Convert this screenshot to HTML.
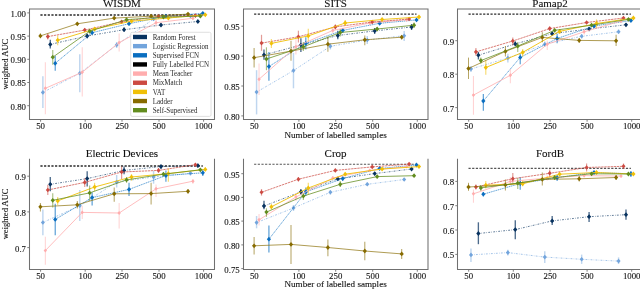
<!DOCTYPE html><html><head><meta charset="utf-8"><style>html,body{margin:0;padding:0;background:#fff;}svg{display:block;will-change:transform;}</style></head><body>
<svg width="640" height="289" viewBox="0 0 640 289" font-family='"Liberation Serif", serif'>
<rect width="640" height="289" fill="#fff"/>
<line x1="40.4" y1="14.9" x2="202.8" y2="14.9" stroke="#2a2a2a" stroke-width="1.45" stroke-dasharray="2.2 1.46"/>
<path d="M50.28 44.4 L87.18 36 L124.08 29.7 L160.98 25 L197.88 21.5" fill="none" stroke="#08325f" stroke-width="0.8" stroke-opacity="0.8" stroke-dasharray="1.8 1.3 0.6 1.3"/>
<line x1="50.28" y1="39.8" x2="50.28" y2="48.4" stroke="#08325f" stroke-width="1.35" stroke-opacity="0.72"/>
<line x1="87.18" y1="33.7" x2="87.18" y2="38.2" stroke="#08325f" stroke-width="1.35" stroke-opacity="0.72"/>
<line x1="124.08" y1="27.5" x2="124.08" y2="31.8" stroke="#08325f" stroke-width="1.35" stroke-opacity="0.72"/>
<line x1="160.98" y1="23.5" x2="160.98" y2="26.5" stroke="#08325f" stroke-width="1.35" stroke-opacity="0.72"/>
<line x1="197.88" y1="20.3" x2="197.88" y2="22.7" stroke="#08325f" stroke-width="1.35" stroke-opacity="0.72"/>
<path d="M50.28 41.98L52.38 44.4L50.28 46.81L48.18 44.4Z" fill="#08325f"/>
<path d="M87.18 33.59L89.28 36L87.18 38.41L85.08 36Z" fill="#08325f"/>
<path d="M124.08 27.29L126.18 29.7L124.08 32.12L121.98 29.7Z" fill="#08325f"/>
<path d="M160.98 22.59L163.08 25L160.98 27.41L158.88 25Z" fill="#08325f"/>
<path d="M197.88 19.09L199.98 21.5L197.88 23.91L195.78 21.5Z" fill="#08325f"/>
<path d="M42.87 92.4 L79.77 73.2 L116.67 45 L153.57 19 L190.47 16" fill="none" stroke="#72a4dc" stroke-width="0.8" stroke-opacity="0.8" stroke-dasharray="1.8 1.3 0.6 1.3"/>
<line x1="42.87" y1="76.2" x2="42.87" y2="107.9" stroke="#72a4dc" stroke-width="1.45" stroke-opacity="0.45"/>
<line x1="79.77" y1="54.2" x2="79.77" y2="92.2" stroke="#72a4dc" stroke-width="1.45" stroke-opacity="0.45"/>
<line x1="116.67" y1="42" x2="116.67" y2="48" stroke="#72a4dc" stroke-width="1.45" stroke-opacity="0.45"/>
<line x1="153.57" y1="17.5" x2="153.57" y2="20.5" stroke="#72a4dc" stroke-width="1.45" stroke-opacity="0.45"/>
<line x1="190.47" y1="14.5" x2="190.47" y2="17.5" stroke="#72a4dc" stroke-width="1.45" stroke-opacity="0.45"/>
<path d="M42.87 90.1L44.87 92.4L42.87 94.7L40.87 92.4Z" fill="#72a4dc"/>
<path d="M79.77 70.9L81.77 73.2L79.77 75.5L77.77 73.2Z" fill="#72a4dc"/>
<path d="M116.67 42.7L118.67 45L116.67 47.3L114.67 45Z" fill="#72a4dc"/>
<path d="M153.57 16.7L155.57 19L153.57 21.3L151.57 19Z" fill="#72a4dc"/>
<path d="M190.47 13.7L192.47 16L190.47 18.3L188.47 16Z" fill="#72a4dc"/>
<path d="M55.22 63.3 L92.12 32.7 L129.02 23.7 L165.92 16.2 L202.82 13.3" fill="none" stroke="#0a6ec0" stroke-width="0.8" stroke-opacity="0.8" stroke-dasharray="1.3 0.6"/>
<line x1="55.22" y1="56" x2="55.22" y2="70.8" stroke="#0a6ec0" stroke-width="1.15" stroke-opacity="0.7"/>
<line x1="92.12" y1="30.5" x2="92.12" y2="35" stroke="#0a6ec0" stroke-width="1.15" stroke-opacity="0.7"/>
<line x1="129.02" y1="22" x2="129.02" y2="25.5" stroke="#0a6ec0" stroke-width="1.15" stroke-opacity="0.7"/>
<line x1="165.92" y1="15" x2="165.92" y2="17.5" stroke="#0a6ec0" stroke-width="1.15" stroke-opacity="0.7"/>
<line x1="202.82" y1="12.3" x2="202.82" y2="14.3" stroke="#0a6ec0" stroke-width="1.15" stroke-opacity="0.7"/>
<path d="M55.22 60.88L57.32 63.3L55.22 65.72L53.12 63.3Z" fill="#0a6ec0"/>
<path d="M92.12 30.29L94.22 32.7L92.12 35.12L90.02 32.7Z" fill="#0a6ec0"/>
<path d="M129.02 21.29L131.12 23.7L129.02 26.11L126.92 23.7Z" fill="#0a6ec0"/>
<path d="M165.92 13.79L168.02 16.2L165.92 18.61L163.82 16.2Z" fill="#0a6ec0"/>
<path d="M202.82 10.89L204.92 13.3L202.82 15.71L200.72 13.3Z" fill="#0a6ec0"/>
<path d="M45.34 88.3 L82.24 72.2 L119.14 42.6 L156.04 22.7 L192.94 18.3" fill="none" stroke="#ffadae" stroke-width="0.9" stroke-opacity="0.9"/>
<line x1="45.34" y1="62.2" x2="45.34" y2="114.2" stroke="#ffadae" stroke-width="1.05" stroke-opacity="0.55"/>
<line x1="82.24" y1="47.3" x2="82.24" y2="96.5" stroke="#ffadae" stroke-width="1.05" stroke-opacity="0.55"/>
<line x1="119.14" y1="33.6" x2="119.14" y2="51.6" stroke="#ffadae" stroke-width="1.05" stroke-opacity="0.55"/>
<line x1="156.04" y1="19.7" x2="156.04" y2="26.8" stroke="#ffadae" stroke-width="1.05" stroke-opacity="0.55"/>
<line x1="192.94" y1="16.5" x2="192.94" y2="20" stroke="#ffadae" stroke-width="1.05" stroke-opacity="0.55"/>
<path d="M45.34 86.34L47.04 88.3L45.34 90.25L43.64 88.3Z" fill="#ffadae"/>
<path d="M82.24 70.25L83.94 72.2L82.24 74.16L80.54 72.2Z" fill="#ffadae"/>
<path d="M119.14 40.65L120.84 42.6L119.14 44.55L117.44 42.6Z" fill="#ffadae"/>
<path d="M156.04 20.75L157.74 22.7L156.04 24.65L154.34 22.7Z" fill="#ffadae"/>
<path d="M192.94 16.35L194.64 18.3L192.94 20.25L191.24 18.3Z" fill="#ffadae"/>
<path d="M47.81 36.6 L84.71 30.1 L121.61 21.8 L158.51 16.4 L195.41 15.6" fill="none" stroke="#cc4a42" stroke-width="0.9" stroke-opacity="0.8" stroke-dasharray="2.4 0.7"/>
<line x1="47.81" y1="33.5" x2="47.81" y2="39.5" stroke="#cc4a42" stroke-width="1.2" stroke-opacity="0.55"/>
<line x1="84.71" y1="28" x2="84.71" y2="32" stroke="#cc4a42" stroke-width="1.2" stroke-opacity="0.55"/>
<line x1="121.61" y1="20" x2="121.61" y2="23.5" stroke="#cc4a42" stroke-width="1.2" stroke-opacity="0.55"/>
<line x1="158.51" y1="15" x2="158.51" y2="18" stroke="#cc4a42" stroke-width="1.2" stroke-opacity="0.55"/>
<line x1="195.41" y1="14.5" x2="195.41" y2="16.7" stroke="#cc4a42" stroke-width="1.2" stroke-opacity="0.55"/>
<path d="M47.81 34.3L49.81 36.6L47.81 38.9L45.81 36.6Z" fill="#cc4a42"/>
<path d="M84.71 27.8L86.71 30.1L84.71 32.4L82.71 30.1Z" fill="#cc4a42"/>
<path d="M121.61 19.5L123.61 21.8L121.61 24.1L119.61 21.8Z" fill="#cc4a42"/>
<path d="M158.51 14.1L160.51 16.4L158.51 18.7L156.51 16.4Z" fill="#cc4a42"/>
<path d="M195.41 13.3L197.41 15.6L195.41 17.9L193.41 15.6Z" fill="#cc4a42"/>
<path d="M57.69 40.2 L94.59 29 L131.49 21.2 L168.39 18 L205.29 14.8" fill="none" stroke="#f0c008" stroke-width="1.0" stroke-opacity="0.9"/>
<line x1="57.69" y1="35.6" x2="57.69" y2="45.2" stroke="#f0c008" stroke-width="1.2" stroke-opacity="0.55"/>
<line x1="94.59" y1="27" x2="94.59" y2="31" stroke="#f0c008" stroke-width="1.2" stroke-opacity="0.55"/>
<line x1="131.49" y1="19.5" x2="131.49" y2="23" stroke="#f0c008" stroke-width="1.2" stroke-opacity="0.55"/>
<line x1="168.39" y1="16.5" x2="168.39" y2="19.5" stroke="#f0c008" stroke-width="1.2" stroke-opacity="0.55"/>
<line x1="205.29" y1="13.8" x2="205.29" y2="15.8" stroke="#f0c008" stroke-width="1.2" stroke-opacity="0.55"/>
<path d="M57.69 37.79L59.79 40.2L57.69 42.62L55.59 40.2Z" fill="#f0c008"/>
<path d="M94.59 26.59L96.69 29L94.59 31.41L92.49 29Z" fill="#f0c008"/>
<path d="M131.49 18.79L133.59 21.2L131.49 23.61L129.39 21.2Z" fill="#f0c008"/>
<path d="M168.39 15.59L170.49 18L168.39 20.41L166.29 18Z" fill="#f0c008"/>
<path d="M205.29 12.39L207.39 14.8L205.29 17.21L203.19 14.8Z" fill="#f0c008"/>
<path d="M40.4 35.9 L77.3 23.8 L114.2 18.1 L151.1 16.2 L188 14.1" fill="none" stroke="#876b00" stroke-width="0.9" stroke-opacity="0.75"/>
<line x1="40.4" y1="33.6" x2="40.4" y2="38.2" stroke="#876b00" stroke-width="1.05" stroke-opacity="0.6"/>
<line x1="77.3" y1="22" x2="77.3" y2="25.5" stroke="#876b00" stroke-width="1.05" stroke-opacity="0.6"/>
<line x1="114.2" y1="16.5" x2="114.2" y2="19.7" stroke="#876b00" stroke-width="1.05" stroke-opacity="0.6"/>
<line x1="151.1" y1="15" x2="151.1" y2="17.4" stroke="#876b00" stroke-width="1.05" stroke-opacity="0.6"/>
<line x1="188" y1="13" x2="188" y2="15.2" stroke="#876b00" stroke-width="1.05" stroke-opacity="0.6"/>
<path d="M40.4 33.48L42.5 35.9L40.4 38.31L38.3 35.9Z" fill="#876b00"/>
<path d="M77.3 21.39L79.4 23.8L77.3 26.21L75.2 23.8Z" fill="#876b00"/>
<path d="M114.2 15.69L116.3 18.1L114.2 20.52L112.1 18.1Z" fill="#876b00"/>
<path d="M151.1 13.79L153.2 16.2L151.1 18.61L149 16.2Z" fill="#876b00"/>
<path d="M188 11.68L190.1 14.1L188 16.52L185.9 14.1Z" fill="#876b00"/>
<path d="M52.75 57.2 L89.65 31.2 L126.55 19.7 L163.45 17 L200.35 16.2" fill="none" stroke="#628c1e" stroke-width="0.9" stroke-opacity="0.85"/>
<line x1="52.75" y1="49.9" x2="52.75" y2="64.7" stroke="#628c1e" stroke-width="1.15" stroke-opacity="0.55"/>
<line x1="89.65" y1="29" x2="89.65" y2="33.5" stroke="#628c1e" stroke-width="1.15" stroke-opacity="0.55"/>
<line x1="126.55" y1="18" x2="126.55" y2="21.5" stroke="#628c1e" stroke-width="1.15" stroke-opacity="0.55"/>
<line x1="163.45" y1="15.8" x2="163.45" y2="18.2" stroke="#628c1e" stroke-width="1.15" stroke-opacity="0.55"/>
<line x1="200.35" y1="15.2" x2="200.35" y2="17.2" stroke="#628c1e" stroke-width="1.15" stroke-opacity="0.55"/>
<path d="M52.75 54.79L54.85 57.2L52.75 59.62L50.65 57.2Z" fill="#628c1e"/>
<path d="M89.65 28.79L91.75 31.2L89.65 33.62L87.55 31.2Z" fill="#628c1e"/>
<path d="M126.55 17.29L128.65 19.7L126.55 22.11L124.45 19.7Z" fill="#628c1e"/>
<path d="M163.45 14.59L165.55 17L163.45 19.41L161.35 17Z" fill="#628c1e"/>
<path d="M200.35 13.79L202.45 16.2L200.35 18.61L198.25 16.2Z" fill="#628c1e"/>
<path d="M29.5 119.5 L29.5 9 L214.5 9 L214.5 119.5 Z" fill="none" stroke="#707070" stroke-width="1.05"/>
<line x1="27.3" y1="12.9" x2="29.5" y2="12.9" stroke="#707070" stroke-width="0.9"/>
<text transform="translate(26 16.8) scale(0.1060 0.1)" font-size="83" text-anchor="end" fill="#111" stroke="#111" stroke-width="1.0">1.00</text>
<line x1="27.3" y1="36.1" x2="29.5" y2="36.1" stroke="#707070" stroke-width="0.9"/>
<text transform="translate(26 40) scale(0.1060 0.1)" font-size="83" text-anchor="end" fill="#111" stroke="#111" stroke-width="1.0">0.95</text>
<line x1="27.3" y1="59.3" x2="29.5" y2="59.3" stroke="#707070" stroke-width="0.9"/>
<text transform="translate(26 63.2) scale(0.1060 0.1)" font-size="83" text-anchor="end" fill="#111" stroke="#111" stroke-width="1.0">0.90</text>
<line x1="27.3" y1="82.5" x2="29.5" y2="82.5" stroke="#707070" stroke-width="0.9"/>
<text transform="translate(26 86.4) scale(0.1060 0.1)" font-size="83" text-anchor="end" fill="#111" stroke="#111" stroke-width="1.0">0.85</text>
<line x1="27.3" y1="105.7" x2="29.5" y2="105.7" stroke="#707070" stroke-width="0.9"/>
<text transform="translate(26 109.6) scale(0.1060 0.1)" font-size="83" text-anchor="end" fill="#111" stroke="#111" stroke-width="1.0">0.80</text>
<line x1="40.6" y1="119.5" x2="40.6" y2="121.7" stroke="#707070" stroke-width="0.9"/>
<text transform="translate(40.6 128.7) scale(0.1060 0.1)" font-size="83" text-anchor="middle" fill="#111" stroke="#111" stroke-width="1.0">50</text>
<line x1="85.2" y1="119.5" x2="85.2" y2="121.7" stroke="#707070" stroke-width="0.9"/>
<text transform="translate(85.2 128.7) scale(0.1060 0.1)" font-size="83" text-anchor="middle" fill="#111" stroke="#111" stroke-width="1.0">100</text>
<line x1="122" y1="119.5" x2="122" y2="121.7" stroke="#707070" stroke-width="0.9"/>
<text transform="translate(122 128.7) scale(0.1060 0.1)" font-size="83" text-anchor="middle" fill="#111" stroke="#111" stroke-width="1.0">250</text>
<line x1="159" y1="119.5" x2="159" y2="121.7" stroke="#707070" stroke-width="0.9"/>
<text transform="translate(159 128.7) scale(0.1060 0.1)" font-size="83" text-anchor="middle" fill="#111" stroke="#111" stroke-width="1.0">500</text>
<line x1="203.6" y1="119.5" x2="203.6" y2="121.7" stroke="#707070" stroke-width="0.9"/>
<text transform="translate(203.6 128.7) scale(0.1060 0.1)" font-size="83" text-anchor="middle" fill="#111" stroke="#111" stroke-width="1.0">1000</text>
<text transform="translate(121.9 6.7) scale(0.1000 0.1)" font-size="110" text-anchor="middle" fill="#111" stroke="#111" stroke-width="1.0">WISDM</text>
<line x1="254.1" y1="14.1" x2="416.5" y2="14.1" stroke="#2a2a2a" stroke-width="1.45" stroke-dasharray="2.2 1.46"/>
<path d="M263.98 54.9 L300.88 45.1 L337.78 35.5 L374.68 30.9 L411.58 27" fill="none" stroke="#08325f" stroke-width="0.8" stroke-opacity="0.8" stroke-dasharray="1.8 1.3 0.6 1.3"/>
<line x1="263.98" y1="49.4" x2="263.98" y2="59.8" stroke="#08325f" stroke-width="1.35" stroke-opacity="0.72"/>
<line x1="300.88" y1="38.2" x2="300.88" y2="52" stroke="#08325f" stroke-width="1.35" stroke-opacity="0.72"/>
<line x1="337.78" y1="30.8" x2="337.78" y2="39.3" stroke="#08325f" stroke-width="1.35" stroke-opacity="0.72"/>
<line x1="374.68" y1="28" x2="374.68" y2="34" stroke="#08325f" stroke-width="1.35" stroke-opacity="0.72"/>
<line x1="411.58" y1="24" x2="411.58" y2="30" stroke="#08325f" stroke-width="1.35" stroke-opacity="0.72"/>
<path d="M263.98 52.48L266.08 54.9L263.98 57.31L261.88 54.9Z" fill="#08325f"/>
<path d="M300.88 42.69L302.98 45.1L300.88 47.52L298.78 45.1Z" fill="#08325f"/>
<path d="M337.78 33.09L339.88 35.5L337.78 37.91L335.68 35.5Z" fill="#08325f"/>
<path d="M374.68 28.48L376.78 30.9L374.68 33.31L372.58 30.9Z" fill="#08325f"/>
<path d="M411.58 24.59L413.68 27L411.58 29.41L409.48 27Z" fill="#08325f"/>
<path d="M256.57 92.1 L293.47 70.6 L330.37 46.3 L367.27 40 L404.17 35.7" fill="none" stroke="#72a4dc" stroke-width="0.8" stroke-opacity="0.8" stroke-dasharray="1.8 1.3 0.6 1.3"/>
<line x1="256.57" y1="70.2" x2="256.57" y2="114.4" stroke="#72a4dc" stroke-width="1.45" stroke-opacity="0.45"/>
<line x1="293.47" y1="53" x2="293.47" y2="88.3" stroke="#72a4dc" stroke-width="1.45" stroke-opacity="0.45"/>
<line x1="330.37" y1="43" x2="330.37" y2="49.5" stroke="#72a4dc" stroke-width="1.45" stroke-opacity="0.45"/>
<line x1="367.27" y1="36" x2="367.27" y2="44" stroke="#72a4dc" stroke-width="1.45" stroke-opacity="0.45"/>
<line x1="404.17" y1="31" x2="404.17" y2="41" stroke="#72a4dc" stroke-width="1.45" stroke-opacity="0.45"/>
<path d="M256.57 89.8L258.57 92.1L256.57 94.4L254.57 92.1Z" fill="#72a4dc"/>
<path d="M293.47 68.3L295.47 70.6L293.47 72.9L291.47 70.6Z" fill="#72a4dc"/>
<path d="M330.37 44L332.37 46.3L330.37 48.6L328.37 46.3Z" fill="#72a4dc"/>
<path d="M367.27 37.7L369.27 40L367.27 42.3L365.27 40Z" fill="#72a4dc"/>
<path d="M404.17 33.4L406.17 35.7L404.17 38L402.17 35.7Z" fill="#72a4dc"/>
<path d="M268.92 66.5 L305.82 43.4 L342.72 30.4 L379.62 23.3 L416.52 19.9" fill="none" stroke="#0a6ec0" stroke-width="0.8" stroke-opacity="0.8" stroke-dasharray="1.3 0.6"/>
<line x1="268.92" y1="52" x2="268.92" y2="80.7" stroke="#0a6ec0" stroke-width="1.15" stroke-opacity="0.7"/>
<line x1="305.82" y1="37.3" x2="305.82" y2="49.4" stroke="#0a6ec0" stroke-width="1.15" stroke-opacity="0.7"/>
<line x1="342.72" y1="28" x2="342.72" y2="33" stroke="#0a6ec0" stroke-width="1.15" stroke-opacity="0.7"/>
<line x1="379.62" y1="21.5" x2="379.62" y2="25" stroke="#0a6ec0" stroke-width="1.15" stroke-opacity="0.7"/>
<line x1="416.52" y1="18.5" x2="416.52" y2="21.3" stroke="#0a6ec0" stroke-width="1.15" stroke-opacity="0.7"/>
<path d="M268.92 64.08L271.02 66.5L268.92 68.92L266.82 66.5Z" fill="#0a6ec0"/>
<path d="M305.82 40.98L307.92 43.4L305.82 45.81L303.72 43.4Z" fill="#0a6ec0"/>
<path d="M342.72 27.98L344.82 30.4L342.72 32.81L340.62 30.4Z" fill="#0a6ec0"/>
<path d="M379.62 20.89L381.72 23.3L379.62 25.71L377.52 23.3Z" fill="#0a6ec0"/>
<path d="M416.52 17.48L418.62 19.9L416.52 22.31L414.42 19.9Z" fill="#0a6ec0"/>
<path d="M259.04 79.2 L295.94 46.8 L332.84 30.4 L369.74 23 L406.64 19.8" fill="none" stroke="#ffadae" stroke-width="0.9" stroke-opacity="0.9"/>
<line x1="259.04" y1="63.6" x2="259.04" y2="95" stroke="#ffadae" stroke-width="1.05" stroke-opacity="0.55"/>
<line x1="295.94" y1="39" x2="295.94" y2="54.6" stroke="#ffadae" stroke-width="1.05" stroke-opacity="0.55"/>
<line x1="332.84" y1="28" x2="332.84" y2="33" stroke="#ffadae" stroke-width="1.05" stroke-opacity="0.55"/>
<line x1="369.74" y1="21" x2="369.74" y2="25" stroke="#ffadae" stroke-width="1.05" stroke-opacity="0.55"/>
<line x1="406.64" y1="18" x2="406.64" y2="21.5" stroke="#ffadae" stroke-width="1.05" stroke-opacity="0.55"/>
<path d="M259.04 77.25L260.74 79.2L259.04 81.16L257.34 79.2Z" fill="#ffadae"/>
<path d="M295.94 44.84L297.64 46.8L295.94 48.75L294.24 46.8Z" fill="#ffadae"/>
<path d="M332.84 28.45L334.54 30.4L332.84 32.35L331.14 30.4Z" fill="#ffadae"/>
<path d="M369.74 21.05L371.44 23L369.74 24.95L368.04 23Z" fill="#ffadae"/>
<path d="M406.64 17.85L408.34 19.8L406.64 21.75L404.94 19.8Z" fill="#ffadae"/>
<path d="M261.51 43.1 L298.41 36.8 L335.31 26.9 L372.21 22 L409.11 19" fill="none" stroke="#cc4a42" stroke-width="0.9" stroke-opacity="0.8" stroke-dasharray="2.4 0.7"/>
<line x1="261.51" y1="34.8" x2="261.51" y2="50.8" stroke="#cc4a42" stroke-width="1.2" stroke-opacity="0.55"/>
<line x1="298.41" y1="30.7" x2="298.41" y2="42.5" stroke="#cc4a42" stroke-width="1.2" stroke-opacity="0.55"/>
<line x1="335.31" y1="24.5" x2="335.31" y2="29.3" stroke="#cc4a42" stroke-width="1.2" stroke-opacity="0.55"/>
<line x1="372.21" y1="20.5" x2="372.21" y2="23.5" stroke="#cc4a42" stroke-width="1.2" stroke-opacity="0.55"/>
<line x1="409.11" y1="17.8" x2="409.11" y2="20.2" stroke="#cc4a42" stroke-width="1.2" stroke-opacity="0.55"/>
<path d="M261.51 40.8L263.51 43.1L261.51 45.4L259.51 43.1Z" fill="#cc4a42"/>
<path d="M298.41 34.5L300.41 36.8L298.41 39.1L296.41 36.8Z" fill="#cc4a42"/>
<path d="M335.31 24.6L337.31 26.9L335.31 29.2L333.31 26.9Z" fill="#cc4a42"/>
<path d="M372.21 19.7L374.21 22L372.21 24.3L370.21 22Z" fill="#cc4a42"/>
<path d="M409.11 16.7L411.11 19L409.11 21.3L407.11 19Z" fill="#cc4a42"/>
<path d="M271.39 43.4 L308.29 35.9 L345.19 23 L382.09 19.5 L418.99 17" fill="none" stroke="#f0c008" stroke-width="1.0" stroke-opacity="0.9"/>
<line x1="271.39" y1="39" x2="271.39" y2="48" stroke="#f0c008" stroke-width="1.2" stroke-opacity="0.55"/>
<line x1="308.29" y1="28.7" x2="308.29" y2="41.6" stroke="#f0c008" stroke-width="1.2" stroke-opacity="0.55"/>
<line x1="345.19" y1="20" x2="345.19" y2="26" stroke="#f0c008" stroke-width="1.2" stroke-opacity="0.55"/>
<line x1="382.09" y1="18" x2="382.09" y2="21" stroke="#f0c008" stroke-width="1.2" stroke-opacity="0.55"/>
<line x1="418.99" y1="16" x2="418.99" y2="18" stroke="#f0c008" stroke-width="1.2" stroke-opacity="0.55"/>
<path d="M271.39 40.98L273.49 43.4L271.39 45.81L269.29 43.4Z" fill="#f0c008"/>
<path d="M308.29 33.48L310.39 35.9L308.29 38.31L306.19 35.9Z" fill="#f0c008"/>
<path d="M345.19 20.59L347.29 23L345.19 25.41L343.09 23Z" fill="#f0c008"/>
<path d="M382.09 17.09L384.19 19.5L382.09 21.91L379.99 19.5Z" fill="#f0c008"/>
<path d="M418.99 14.59L421.09 17L418.99 19.41L416.89 17Z" fill="#f0c008"/>
<path d="M254.1 57.7 L291 51.1 L327.9 44.2 L364.8 39.8 L401.7 37.2" fill="none" stroke="#876b00" stroke-width="0.9" stroke-opacity="0.75"/>
<line x1="254.1" y1="48" x2="254.1" y2="67.4" stroke="#876b00" stroke-width="1.05" stroke-opacity="0.6"/>
<line x1="291" y1="40.8" x2="291" y2="60.7" stroke="#876b00" stroke-width="1.05" stroke-opacity="0.6"/>
<line x1="327.9" y1="36.6" x2="327.9" y2="51.8" stroke="#876b00" stroke-width="1.05" stroke-opacity="0.6"/>
<line x1="364.8" y1="35.6" x2="364.8" y2="45.2" stroke="#876b00" stroke-width="1.05" stroke-opacity="0.6"/>
<line x1="401.7" y1="35" x2="401.7" y2="39.5" stroke="#876b00" stroke-width="1.05" stroke-opacity="0.6"/>
<path d="M254.1 55.29L256.2 57.7L254.1 60.12L252 57.7Z" fill="#876b00"/>
<path d="M291 48.69L293.1 51.1L291 53.52L288.9 51.1Z" fill="#876b00"/>
<path d="M327.9 41.79L330 44.2L327.9 46.62L325.8 44.2Z" fill="#876b00"/>
<path d="M364.8 37.38L366.9 39.8L364.8 42.21L362.7 39.8Z" fill="#876b00"/>
<path d="M401.7 34.79L403.8 37.2L401.7 39.62L399.6 37.2Z" fill="#876b00"/>
<path d="M266.45 59 L303.35 46.8 L340.25 32.5 L377.15 29 L414.05 25.2" fill="none" stroke="#628c1e" stroke-width="0.9" stroke-opacity="0.85"/>
<line x1="266.45" y1="47.3" x2="266.45" y2="70.2" stroke="#628c1e" stroke-width="1.15" stroke-opacity="0.55"/>
<line x1="303.35" y1="42" x2="303.35" y2="51" stroke="#628c1e" stroke-width="1.15" stroke-opacity="0.55"/>
<line x1="340.25" y1="29" x2="340.25" y2="36.5" stroke="#628c1e" stroke-width="1.15" stroke-opacity="0.55"/>
<line x1="377.15" y1="27" x2="377.15" y2="31" stroke="#628c1e" stroke-width="1.15" stroke-opacity="0.55"/>
<line x1="414.05" y1="22.5" x2="414.05" y2="28" stroke="#628c1e" stroke-width="1.15" stroke-opacity="0.55"/>
<path d="M266.45 56.59L268.55 59L266.45 61.41L264.35 59Z" fill="#628c1e"/>
<path d="M303.35 44.38L305.45 46.8L303.35 49.21L301.25 46.8Z" fill="#628c1e"/>
<path d="M340.25 30.09L342.35 32.5L340.25 34.91L338.15 32.5Z" fill="#628c1e"/>
<path d="M377.15 26.59L379.25 29L377.15 31.41L375.05 29Z" fill="#628c1e"/>
<path d="M414.05 22.79L416.15 25.2L414.05 27.61L411.95 25.2Z" fill="#628c1e"/>
<path d="M243.5 119.5 L243.5 9 L428 9 L428 119.5 Z" fill="none" stroke="#707070" stroke-width="1.05"/>
<line x1="241.3" y1="26.2" x2="243.5" y2="26.2" stroke="#707070" stroke-width="0.9"/>
<text transform="translate(239.7 30.1) scale(0.1060 0.1)" font-size="83" text-anchor="end" fill="#111" stroke="#111" stroke-width="1.0">0.95</text>
<line x1="241.3" y1="56.1" x2="243.5" y2="56.1" stroke="#707070" stroke-width="0.9"/>
<text transform="translate(239.7 60) scale(0.1060 0.1)" font-size="83" text-anchor="end" fill="#111" stroke="#111" stroke-width="1.0">0.90</text>
<line x1="241.3" y1="86" x2="243.5" y2="86" stroke="#707070" stroke-width="0.9"/>
<text transform="translate(239.7 89.9) scale(0.1060 0.1)" font-size="83" text-anchor="end" fill="#111" stroke="#111" stroke-width="1.0">0.85</text>
<line x1="241.3" y1="115.9" x2="243.5" y2="115.9" stroke="#707070" stroke-width="0.9"/>
<text transform="translate(239.7 119.8) scale(0.1060 0.1)" font-size="83" text-anchor="end" fill="#111" stroke="#111" stroke-width="1.0">0.80</text>
<line x1="254.3" y1="119.5" x2="254.3" y2="121.7" stroke="#707070" stroke-width="0.9"/>
<text transform="translate(254.3 128.7) scale(0.1060 0.1)" font-size="83" text-anchor="middle" fill="#111" stroke="#111" stroke-width="1.0">50</text>
<line x1="298.9" y1="119.5" x2="298.9" y2="121.7" stroke="#707070" stroke-width="0.9"/>
<text transform="translate(298.9 128.7) scale(0.1060 0.1)" font-size="83" text-anchor="middle" fill="#111" stroke="#111" stroke-width="1.0">100</text>
<line x1="335.7" y1="119.5" x2="335.7" y2="121.7" stroke="#707070" stroke-width="0.9"/>
<text transform="translate(335.7 128.7) scale(0.1060 0.1)" font-size="83" text-anchor="middle" fill="#111" stroke="#111" stroke-width="1.0">250</text>
<line x1="372.7" y1="119.5" x2="372.7" y2="121.7" stroke="#707070" stroke-width="0.9"/>
<text transform="translate(372.7 128.7) scale(0.1060 0.1)" font-size="83" text-anchor="middle" fill="#111" stroke="#111" stroke-width="1.0">500</text>
<line x1="417.3" y1="119.5" x2="417.3" y2="121.7" stroke="#707070" stroke-width="0.9"/>
<text transform="translate(417.3 128.7) scale(0.1060 0.1)" font-size="83" text-anchor="middle" fill="#111" stroke="#111" stroke-width="1.0">1000</text>
<text transform="translate(335.6 6.7) scale(0.1000 0.1)" font-size="110" text-anchor="middle" fill="#111" stroke="#111" stroke-width="1.0">SITS</text>
<line x1="468.5" y1="14.1" x2="630.9" y2="14.1" stroke="#2a2a2a" stroke-width="1.45" stroke-dasharray="2.2 1.46"/>
<path d="M478.38 55.2 L515.28 43.9 L552.18 33.7 L589.08 29 L625.98 24.8" fill="none" stroke="#08325f" stroke-width="0.8" stroke-opacity="0.8" stroke-dasharray="1.8 1.3 0.6 1.3"/>
<line x1="478.38" y1="51.9" x2="478.38" y2="59.5" stroke="#08325f" stroke-width="1.35" stroke-opacity="0.72"/>
<line x1="515.28" y1="41.5" x2="515.28" y2="46.3" stroke="#08325f" stroke-width="1.35" stroke-opacity="0.72"/>
<line x1="552.18" y1="31.5" x2="552.18" y2="36" stroke="#08325f" stroke-width="1.35" stroke-opacity="0.72"/>
<line x1="589.08" y1="27.3" x2="589.08" y2="30.7" stroke="#08325f" stroke-width="1.35" stroke-opacity="0.72"/>
<line x1="625.98" y1="23.3" x2="625.98" y2="26.3" stroke="#08325f" stroke-width="1.35" stroke-opacity="0.72"/>
<path d="M478.38 52.79L480.48 55.2L478.38 57.62L476.28 55.2Z" fill="#08325f"/>
<path d="M515.28 41.48L517.38 43.9L515.28 46.31L513.18 43.9Z" fill="#08325f"/>
<path d="M552.18 31.29L554.28 33.7L552.18 36.12L550.08 33.7Z" fill="#08325f"/>
<path d="M589.08 26.59L591.18 29L589.08 31.41L586.98 29Z" fill="#08325f"/>
<path d="M625.98 22.39L628.08 24.8L625.98 27.21L623.88 24.8Z" fill="#08325f"/>
<path d="M470.97 69 L507.87 58 L544.77 44.2 L581.67 36.3 L618.57 31.8" fill="none" stroke="#72a4dc" stroke-width="0.8" stroke-opacity="0.8" stroke-dasharray="1.8 1.3 0.6 1.3"/>
<line x1="470.97" y1="66" x2="470.97" y2="72" stroke="#72a4dc" stroke-width="1.45" stroke-opacity="0.45"/>
<line x1="507.87" y1="53.8" x2="507.87" y2="62.4" stroke="#72a4dc" stroke-width="1.45" stroke-opacity="0.45"/>
<line x1="544.77" y1="41.5" x2="544.77" y2="47" stroke="#72a4dc" stroke-width="1.45" stroke-opacity="0.45"/>
<line x1="581.67" y1="34" x2="581.67" y2="38.5" stroke="#72a4dc" stroke-width="1.45" stroke-opacity="0.45"/>
<line x1="618.57" y1="29.5" x2="618.57" y2="34" stroke="#72a4dc" stroke-width="1.45" stroke-opacity="0.45"/>
<path d="M470.97 66.7L472.97 69L470.97 71.3L468.97 69Z" fill="#72a4dc"/>
<path d="M507.87 55.7L509.87 58L507.87 60.3L505.87 58Z" fill="#72a4dc"/>
<path d="M544.77 41.9L546.77 44.2L544.77 46.5L542.77 44.2Z" fill="#72a4dc"/>
<path d="M581.67 34L583.67 36.3L581.67 38.6L579.67 36.3Z" fill="#72a4dc"/>
<path d="M618.57 29.5L620.57 31.8L618.57 34.1L616.57 31.8Z" fill="#72a4dc"/>
<path d="M483.32 101 L520.22 57.4 L557.12 38.5 L594.02 26 L630.92 20.5" fill="none" stroke="#0a6ec0" stroke-width="0.8" stroke-opacity="0.8" stroke-dasharray="1.3 0.6"/>
<line x1="483.32" y1="94" x2="483.32" y2="110.7" stroke="#0a6ec0" stroke-width="1.15" stroke-opacity="0.7"/>
<line x1="520.22" y1="53.8" x2="520.22" y2="64.3" stroke="#0a6ec0" stroke-width="1.15" stroke-opacity="0.7"/>
<line x1="557.12" y1="33.7" x2="557.12" y2="43.2" stroke="#0a6ec0" stroke-width="1.15" stroke-opacity="0.7"/>
<line x1="594.02" y1="24" x2="594.02" y2="28" stroke="#0a6ec0" stroke-width="1.15" stroke-opacity="0.7"/>
<line x1="630.92" y1="19" x2="630.92" y2="22" stroke="#0a6ec0" stroke-width="1.15" stroke-opacity="0.7"/>
<path d="M483.32 98.58L485.42 101L483.32 103.42L481.22 101Z" fill="#0a6ec0"/>
<path d="M520.22 54.98L522.32 57.4L520.22 59.81L518.12 57.4Z" fill="#0a6ec0"/>
<path d="M557.12 36.09L559.22 38.5L557.12 40.91L555.02 38.5Z" fill="#0a6ec0"/>
<path d="M594.02 23.59L596.12 26L594.02 28.41L591.92 26Z" fill="#0a6ec0"/>
<path d="M630.92 18.09L633.02 20.5L630.92 22.91L628.82 20.5Z" fill="#0a6ec0"/>
<path d="M473.44 95.1 L510.34 75.3 L547.24 44.2 L584.14 31.8 L621.04 21" fill="none" stroke="#ffadae" stroke-width="0.9" stroke-opacity="0.9"/>
<line x1="473.44" y1="76" x2="473.44" y2="114.8" stroke="#ffadae" stroke-width="1.05" stroke-opacity="0.55"/>
<line x1="510.34" y1="69" x2="510.34" y2="83.3" stroke="#ffadae" stroke-width="1.05" stroke-opacity="0.55"/>
<line x1="547.24" y1="40.4" x2="547.24" y2="49.9" stroke="#ffadae" stroke-width="1.05" stroke-opacity="0.55"/>
<line x1="584.14" y1="29" x2="584.14" y2="34.5" stroke="#ffadae" stroke-width="1.05" stroke-opacity="0.55"/>
<line x1="621.04" y1="19" x2="621.04" y2="23" stroke="#ffadae" stroke-width="1.05" stroke-opacity="0.55"/>
<path d="M473.44 93.14L475.14 95.1L473.44 97.05L471.74 95.1Z" fill="#ffadae"/>
<path d="M510.34 73.34L512.04 75.3L510.34 77.25L508.64 75.3Z" fill="#ffadae"/>
<path d="M547.24 42.25L548.94 44.2L547.24 46.16L545.54 44.2Z" fill="#ffadae"/>
<path d="M584.14 29.85L585.84 31.8L584.14 33.76L582.44 31.8Z" fill="#ffadae"/>
<path d="M621.04 19.05L622.74 21L621.04 22.95L619.34 21Z" fill="#ffadae"/>
<path d="M475.91 51.9 L512.81 41 L549.71 28.6 L586.61 22.5 L623.51 18" fill="none" stroke="#cc4a42" stroke-width="0.9" stroke-opacity="0.8" stroke-dasharray="2.4 0.7"/>
<line x1="475.91" y1="48" x2="475.91" y2="55.7" stroke="#cc4a42" stroke-width="1.2" stroke-opacity="0.55"/>
<line x1="512.81" y1="37.6" x2="512.81" y2="45.2" stroke="#cc4a42" stroke-width="1.2" stroke-opacity="0.55"/>
<line x1="549.71" y1="26.5" x2="549.71" y2="30.7" stroke="#cc4a42" stroke-width="1.2" stroke-opacity="0.55"/>
<line x1="586.61" y1="21" x2="586.61" y2="24" stroke="#cc4a42" stroke-width="1.2" stroke-opacity="0.55"/>
<line x1="623.51" y1="17" x2="623.51" y2="19" stroke="#cc4a42" stroke-width="1.2" stroke-opacity="0.55"/>
<path d="M475.91 49.6L477.91 51.9L475.91 54.2L473.91 51.9Z" fill="#cc4a42"/>
<path d="M512.81 38.7L514.81 41L512.81 43.3L510.81 41Z" fill="#cc4a42"/>
<path d="M549.71 26.3L551.71 28.6L549.71 30.9L547.71 28.6Z" fill="#cc4a42"/>
<path d="M586.61 20.2L588.61 22.5L586.61 24.8L584.61 22.5Z" fill="#cc4a42"/>
<path d="M623.51 15.7L625.51 18L623.51 20.3L621.51 18Z" fill="#cc4a42"/>
<path d="M485.79 67.5 L522.69 52.4 L559.59 31.4 L596.49 23.5 L633.39 18" fill="none" stroke="#f0c008" stroke-width="1.0" stroke-opacity="0.9"/>
<line x1="485.79" y1="60.5" x2="485.79" y2="74.8" stroke="#f0c008" stroke-width="1.2" stroke-opacity="0.55"/>
<line x1="522.69" y1="49" x2="522.69" y2="56.6" stroke="#f0c008" stroke-width="1.2" stroke-opacity="0.55"/>
<line x1="559.59" y1="29" x2="559.59" y2="34" stroke="#f0c008" stroke-width="1.2" stroke-opacity="0.55"/>
<line x1="596.49" y1="19.4" x2="596.49" y2="27.7" stroke="#f0c008" stroke-width="1.2" stroke-opacity="0.55"/>
<line x1="633.39" y1="17" x2="633.39" y2="19" stroke="#f0c008" stroke-width="1.2" stroke-opacity="0.55"/>
<path d="M485.79 65.08L487.89 67.5L485.79 69.92L483.69 67.5Z" fill="#f0c008"/>
<path d="M522.69 49.98L524.79 52.4L522.69 54.81L520.59 52.4Z" fill="#f0c008"/>
<path d="M559.59 28.98L561.69 31.4L559.59 33.81L557.49 31.4Z" fill="#f0c008"/>
<path d="M596.49 21.09L598.59 23.5L596.49 25.91L594.39 23.5Z" fill="#f0c008"/>
<path d="M633.39 15.59L635.49 18L633.39 20.41L631.29 18Z" fill="#f0c008"/>
<path d="M468.5 68.5 L505.4 51.4 L542.3 37.4 L579.2 40.4 L616.1 40.8" fill="none" stroke="#876b00" stroke-width="0.9" stroke-opacity="0.75"/>
<line x1="468.5" y1="57.6" x2="468.5" y2="79" stroke="#876b00" stroke-width="1.05" stroke-opacity="0.6"/>
<line x1="505.4" y1="46.1" x2="505.4" y2="56.6" stroke="#876b00" stroke-width="1.05" stroke-opacity="0.6"/>
<line x1="542.3" y1="32.2" x2="542.3" y2="42.3" stroke="#876b00" stroke-width="1.05" stroke-opacity="0.6"/>
<line x1="579.2" y1="38" x2="579.2" y2="43" stroke="#876b00" stroke-width="1.05" stroke-opacity="0.6"/>
<line x1="616.1" y1="34.7" x2="616.1" y2="46.1" stroke="#876b00" stroke-width="1.05" stroke-opacity="0.6"/>
<path d="M468.5 66.08L470.6 68.5L468.5 70.92L466.4 68.5Z" fill="#876b00"/>
<path d="M505.4 48.98L507.5 51.4L505.4 53.81L503.3 51.4Z" fill="#876b00"/>
<path d="M542.3 34.98L544.4 37.4L542.3 39.81L540.2 37.4Z" fill="#876b00"/>
<path d="M579.2 37.98L581.3 40.4L579.2 42.81L577.1 40.4Z" fill="#876b00"/>
<path d="M616.1 38.38L618.2 40.8L616.1 43.21L614 40.8Z" fill="#876b00"/>
<path d="M480.85 60.6 L517.75 46.1 L554.65 30.3 L591.55 25.2 L628.45 19.4" fill="none" stroke="#628c1e" stroke-width="0.9" stroke-opacity="0.85"/>
<line x1="480.85" y1="57.5" x2="480.85" y2="63.7" stroke="#628c1e" stroke-width="1.15" stroke-opacity="0.55"/>
<line x1="517.75" y1="42.3" x2="517.75" y2="51.9" stroke="#628c1e" stroke-width="1.15" stroke-opacity="0.55"/>
<line x1="554.65" y1="28.5" x2="554.65" y2="32.1" stroke="#628c1e" stroke-width="1.15" stroke-opacity="0.55"/>
<line x1="591.55" y1="23.5" x2="591.55" y2="27" stroke="#628c1e" stroke-width="1.15" stroke-opacity="0.55"/>
<line x1="628.45" y1="18" x2="628.45" y2="20.8" stroke="#628c1e" stroke-width="1.15" stroke-opacity="0.55"/>
<path d="M480.85 58.19L482.95 60.6L480.85 63.02L478.75 60.6Z" fill="#628c1e"/>
<path d="M517.75 43.69L519.85 46.1L517.75 48.52L515.65 46.1Z" fill="#628c1e"/>
<path d="M554.65 27.89L556.75 30.3L554.65 32.72L552.55 30.3Z" fill="#628c1e"/>
<path d="M591.55 22.79L593.65 25.2L591.55 27.61L589.45 25.2Z" fill="#628c1e"/>
<path d="M628.45 16.98L630.55 19.4L628.45 21.81L626.35 19.4Z" fill="#628c1e"/>
<path d="M457.5 119.5 L457.5 9 L642.5 9 L642.5 119.5 Z" fill="none" stroke="#707070" stroke-width="1.05"/>
<line x1="455.3" y1="40.7" x2="457.5" y2="40.7" stroke="#707070" stroke-width="0.9"/>
<text transform="translate(454.1 44.6) scale(0.1060 0.1)" font-size="83" text-anchor="end" fill="#111" stroke="#111" stroke-width="1.0">0.9</text>
<line x1="455.3" y1="74.2" x2="457.5" y2="74.2" stroke="#707070" stroke-width="0.9"/>
<text transform="translate(454.1 78.1) scale(0.1060 0.1)" font-size="83" text-anchor="end" fill="#111" stroke="#111" stroke-width="1.0">0.8</text>
<line x1="455.3" y1="107.6" x2="457.5" y2="107.6" stroke="#707070" stroke-width="0.9"/>
<text transform="translate(454.1 111.5) scale(0.1060 0.1)" font-size="83" text-anchor="end" fill="#111" stroke="#111" stroke-width="1.0">0.7</text>
<line x1="468.7" y1="119.5" x2="468.7" y2="121.7" stroke="#707070" stroke-width="0.9"/>
<text transform="translate(468.7 128.7) scale(0.1060 0.1)" font-size="83" text-anchor="middle" fill="#111" stroke="#111" stroke-width="1.0">50</text>
<line x1="513.3" y1="119.5" x2="513.3" y2="121.7" stroke="#707070" stroke-width="0.9"/>
<text transform="translate(513.3 128.7) scale(0.1060 0.1)" font-size="83" text-anchor="middle" fill="#111" stroke="#111" stroke-width="1.0">100</text>
<line x1="550.1" y1="119.5" x2="550.1" y2="121.7" stroke="#707070" stroke-width="0.9"/>
<text transform="translate(550.1 128.7) scale(0.1060 0.1)" font-size="83" text-anchor="middle" fill="#111" stroke="#111" stroke-width="1.0">250</text>
<line x1="587.1" y1="119.5" x2="587.1" y2="121.7" stroke="#707070" stroke-width="0.9"/>
<text transform="translate(587.1 128.7) scale(0.1060 0.1)" font-size="83" text-anchor="middle" fill="#111" stroke="#111" stroke-width="1.0">500</text>
<line x1="631.7" y1="119.5" x2="631.7" y2="121.7" stroke="#707070" stroke-width="0.9"/>
<text transform="translate(631.7 128.7) scale(0.1060 0.1)" font-size="83" text-anchor="middle" fill="#111" stroke="#111" stroke-width="1.0">1000</text>
<text transform="translate(550 6.7) scale(0.1000 0.1)" font-size="110" text-anchor="middle" fill="#111" stroke="#111" stroke-width="1.0">Pamap2</text>
<line x1="40.4" y1="165.9" x2="202.8" y2="165.9" stroke="#2a2a2a" stroke-width="1.45" stroke-dasharray="2.2 1.46"/>
<path d="M50.28 184.3 L87.18 178.6 L124.08 170.4 L160.98 166.6 L197.88 165.6" fill="none" stroke="#08325f" stroke-width="0.8" stroke-opacity="0.8" stroke-dasharray="1.8 1.3 0.6 1.3"/>
<line x1="50.28" y1="177" x2="50.28" y2="191.3" stroke="#08325f" stroke-width="1.35" stroke-opacity="0.72"/>
<line x1="87.18" y1="171.3" x2="87.18" y2="186.6" stroke="#08325f" stroke-width="1.35" stroke-opacity="0.72"/>
<line x1="124.08" y1="166.6" x2="124.08" y2="174.2" stroke="#08325f" stroke-width="1.35" stroke-opacity="0.72"/>
<line x1="160.98" y1="164.5" x2="160.98" y2="168.7" stroke="#08325f" stroke-width="1.35" stroke-opacity="0.72"/>
<line x1="197.88" y1="163.8" x2="197.88" y2="167.4" stroke="#08325f" stroke-width="1.35" stroke-opacity="0.72"/>
<path d="M50.28 181.89L52.38 184.3L50.28 186.72L48.18 184.3Z" fill="#08325f"/>
<path d="M87.18 176.19L89.28 178.6L87.18 181.01L85.08 178.6Z" fill="#08325f"/>
<path d="M124.08 167.99L126.18 170.4L124.08 172.81L121.98 170.4Z" fill="#08325f"/>
<path d="M160.98 164.19L163.08 166.6L160.98 169.01L158.88 166.6Z" fill="#08325f"/>
<path d="M197.88 163.19L199.98 165.6L197.88 168.01L195.78 165.6Z" fill="#08325f"/>
<path d="M42.87 222.5 L79.77 205.7 L116.67 182 L153.57 177 L190.47 173.2" fill="none" stroke="#72a4dc" stroke-width="0.8" stroke-opacity="0.8" stroke-dasharray="1.8 1.3 0.6 1.3"/>
<line x1="42.87" y1="209.5" x2="42.87" y2="235.2" stroke="#72a4dc" stroke-width="1.45" stroke-opacity="0.45"/>
<line x1="79.77" y1="190" x2="79.77" y2="221" stroke="#72a4dc" stroke-width="1.45" stroke-opacity="0.45"/>
<line x1="116.67" y1="175" x2="116.67" y2="187.5" stroke="#72a4dc" stroke-width="1.45" stroke-opacity="0.45"/>
<line x1="153.57" y1="171" x2="153.57" y2="183.7" stroke="#72a4dc" stroke-width="1.45" stroke-opacity="0.45"/>
<line x1="190.47" y1="171" x2="190.47" y2="175.4" stroke="#72a4dc" stroke-width="1.45" stroke-opacity="0.45"/>
<path d="M42.87 220.2L44.87 222.5L42.87 224.8L40.87 222.5Z" fill="#72a4dc"/>
<path d="M79.77 203.4L81.77 205.7L79.77 208L77.77 205.7Z" fill="#72a4dc"/>
<path d="M116.67 179.7L118.67 182L116.67 184.3L114.67 182Z" fill="#72a4dc"/>
<path d="M153.57 174.7L155.57 177L153.57 179.3L151.57 177Z" fill="#72a4dc"/>
<path d="M190.47 170.9L192.47 173.2L190.47 175.5L188.47 173.2Z" fill="#72a4dc"/>
<path d="M55.22 219.4 L92.12 197.6 L129.02 189.4 L165.92 175.5 L202.82 172.8" fill="none" stroke="#0a6ec0" stroke-width="0.8" stroke-opacity="0.8" stroke-dasharray="1.3 0.6"/>
<line x1="55.22" y1="203.8" x2="55.22" y2="235.2" stroke="#0a6ec0" stroke-width="1.15" stroke-opacity="0.7"/>
<line x1="92.12" y1="192.3" x2="92.12" y2="205.6" stroke="#0a6ec0" stroke-width="1.15" stroke-opacity="0.7"/>
<line x1="129.02" y1="182.7" x2="129.02" y2="196" stroke="#0a6ec0" stroke-width="1.15" stroke-opacity="0.7"/>
<line x1="165.92" y1="170.4" x2="165.92" y2="181.8" stroke="#0a6ec0" stroke-width="1.15" stroke-opacity="0.7"/>
<line x1="202.82" y1="169.4" x2="202.82" y2="176" stroke="#0a6ec0" stroke-width="1.15" stroke-opacity="0.7"/>
<path d="M55.22 216.99L57.32 219.4L55.22 221.81L53.12 219.4Z" fill="#0a6ec0"/>
<path d="M92.12 195.19L94.22 197.6L92.12 200.01L90.02 197.6Z" fill="#0a6ec0"/>
<path d="M129.02 186.99L131.12 189.4L129.02 191.81L126.92 189.4Z" fill="#0a6ec0"/>
<path d="M165.92 173.09L168.02 175.5L165.92 177.91L163.82 175.5Z" fill="#0a6ec0"/>
<path d="M202.82 170.39L204.92 172.8L202.82 175.22L200.72 172.8Z" fill="#0a6ec0"/>
<path d="M45.34 250.6 L82.24 212.4 L119.14 213 L156.04 188.8 L192.94 181.2" fill="none" stroke="#ffadae" stroke-width="0.9" stroke-opacity="0.9"/>
<line x1="45.34" y1="236.8" x2="45.34" y2="264.8" stroke="#ffadae" stroke-width="1.05" stroke-opacity="0.55"/>
<line x1="82.24" y1="205.7" x2="82.24" y2="219" stroke="#ffadae" stroke-width="1.05" stroke-opacity="0.55"/>
<line x1="119.14" y1="202.9" x2="119.14" y2="228.6" stroke="#ffadae" stroke-width="1.05" stroke-opacity="0.55"/>
<line x1="156.04" y1="184.6" x2="156.04" y2="197" stroke="#ffadae" stroke-width="1.05" stroke-opacity="0.55"/>
<line x1="192.94" y1="179" x2="192.94" y2="183.7" stroke="#ffadae" stroke-width="1.05" stroke-opacity="0.55"/>
<path d="M45.34 248.64L47.04 250.6L45.34 252.56L43.64 250.6Z" fill="#ffadae"/>
<path d="M82.24 210.44L83.94 212.4L82.24 214.36L80.54 212.4Z" fill="#ffadae"/>
<path d="M119.14 211.04L120.84 213L119.14 214.96L117.44 213Z" fill="#ffadae"/>
<path d="M156.04 186.84L157.74 188.8L156.04 190.76L154.34 188.8Z" fill="#ffadae"/>
<path d="M192.94 179.24L194.64 181.2L192.94 183.16L191.24 181.2Z" fill="#ffadae"/>
<path d="M47.81 190 L84.71 182.4 L121.61 172 L158.51 170.4 L195.41 164.7" fill="none" stroke="#cc4a42" stroke-width="0.9" stroke-opacity="0.8" stroke-dasharray="2.4 0.7"/>
<line x1="47.81" y1="184.7" x2="47.81" y2="195.1" stroke="#cc4a42" stroke-width="1.2" stroke-opacity="0.55"/>
<line x1="84.71" y1="178" x2="84.71" y2="187" stroke="#cc4a42" stroke-width="1.2" stroke-opacity="0.55"/>
<line x1="121.61" y1="166.6" x2="121.61" y2="178.9" stroke="#cc4a42" stroke-width="1.2" stroke-opacity="0.55"/>
<line x1="158.51" y1="168" x2="158.51" y2="172.8" stroke="#cc4a42" stroke-width="1.2" stroke-opacity="0.55"/>
<line x1="195.41" y1="163" x2="195.41" y2="166.5" stroke="#cc4a42" stroke-width="1.2" stroke-opacity="0.55"/>
<path d="M47.81 187.7L49.81 190L47.81 192.3L45.81 190Z" fill="#cc4a42"/>
<path d="M84.71 180.1L86.71 182.4L84.71 184.7L82.71 182.4Z" fill="#cc4a42"/>
<path d="M121.61 169.7L123.61 172L121.61 174.3L119.61 172Z" fill="#cc4a42"/>
<path d="M158.51 168.1L160.51 170.4L158.51 172.7L156.51 170.4Z" fill="#cc4a42"/>
<path d="M195.41 162.4L197.41 164.7L195.41 167L193.41 164.7Z" fill="#cc4a42"/>
<path d="M57.69 200.9 L94.59 187 L131.49 177 L168.39 173.6 L205.29 169.4" fill="none" stroke="#f0c008" stroke-width="1.0" stroke-opacity="0.9"/>
<line x1="57.69" y1="197" x2="57.69" y2="205" stroke="#f0c008" stroke-width="1.2" stroke-opacity="0.55"/>
<line x1="94.59" y1="182.8" x2="94.59" y2="191.3" stroke="#f0c008" stroke-width="1.2" stroke-opacity="0.55"/>
<line x1="131.49" y1="174.2" x2="131.49" y2="180.8" stroke="#f0c008" stroke-width="1.2" stroke-opacity="0.55"/>
<line x1="168.39" y1="168.5" x2="168.39" y2="181.8" stroke="#f0c008" stroke-width="1.2" stroke-opacity="0.55"/>
<line x1="205.29" y1="167.5" x2="205.29" y2="171.3" stroke="#f0c008" stroke-width="1.2" stroke-opacity="0.55"/>
<path d="M57.69 198.49L59.79 200.9L57.69 203.31L55.59 200.9Z" fill="#f0c008"/>
<path d="M94.59 184.59L96.69 187L94.59 189.41L92.49 187Z" fill="#f0c008"/>
<path d="M131.49 174.59L133.59 177L131.49 179.41L129.39 177Z" fill="#f0c008"/>
<path d="M168.39 171.19L170.49 173.6L168.39 176.01L166.29 173.6Z" fill="#f0c008"/>
<path d="M205.29 166.99L207.39 169.4L205.29 171.81L203.19 169.4Z" fill="#f0c008"/>
<path d="M40.4 206.8 L77.3 204.8 L114.2 193.8 L151.1 193.6 L188 191.3" fill="none" stroke="#876b00" stroke-width="0.9" stroke-opacity="0.75"/>
<line x1="40.4" y1="202.9" x2="40.4" y2="211.4" stroke="#876b00" stroke-width="1.05" stroke-opacity="0.6"/>
<line x1="77.3" y1="201" x2="77.3" y2="208.5" stroke="#876b00" stroke-width="1.05" stroke-opacity="0.6"/>
<line x1="114.2" y1="187.5" x2="114.2" y2="201.8" stroke="#876b00" stroke-width="1.05" stroke-opacity="0.6"/>
<line x1="151.1" y1="182.7" x2="151.1" y2="204.6" stroke="#876b00" stroke-width="1.05" stroke-opacity="0.6"/>
<line x1="188" y1="189" x2="188" y2="193.5" stroke="#876b00" stroke-width="1.05" stroke-opacity="0.6"/>
<path d="M40.4 204.39L42.5 206.8L40.4 209.22L38.3 206.8Z" fill="#876b00"/>
<path d="M77.3 202.39L79.4 204.8L77.3 207.22L75.2 204.8Z" fill="#876b00"/>
<path d="M114.2 191.39L116.3 193.8L114.2 196.22L112.1 193.8Z" fill="#876b00"/>
<path d="M151.1 191.19L153.2 193.6L151.1 196.01L149 193.6Z" fill="#876b00"/>
<path d="M188 188.89L190.1 191.3L188 193.72L185.9 191.3Z" fill="#876b00"/>
<path d="M52.75 200.3 L89.65 192.9 L126.55 179.9 L163.45 174.2 L200.35 169.8" fill="none" stroke="#628c1e" stroke-width="0.9" stroke-opacity="0.85"/>
<line x1="52.75" y1="193.2" x2="52.75" y2="207.5" stroke="#628c1e" stroke-width="1.15" stroke-opacity="0.55"/>
<line x1="89.65" y1="185.6" x2="89.65" y2="200.9" stroke="#628c1e" stroke-width="1.15" stroke-opacity="0.55"/>
<line x1="126.55" y1="177" x2="126.55" y2="182.8" stroke="#628c1e" stroke-width="1.15" stroke-opacity="0.55"/>
<line x1="163.45" y1="172" x2="163.45" y2="176.4" stroke="#628c1e" stroke-width="1.15" stroke-opacity="0.55"/>
<line x1="200.35" y1="168" x2="200.35" y2="171.6" stroke="#628c1e" stroke-width="1.15" stroke-opacity="0.55"/>
<path d="M52.75 197.89L54.85 200.3L52.75 202.72L50.65 200.3Z" fill="#628c1e"/>
<path d="M89.65 190.49L91.75 192.9L89.65 195.31L87.55 192.9Z" fill="#628c1e"/>
<path d="M126.55 177.49L128.65 179.9L126.55 182.31L124.45 179.9Z" fill="#628c1e"/>
<path d="M163.45 171.78L165.55 174.2L163.45 176.61L161.35 174.2Z" fill="#628c1e"/>
<path d="M200.35 167.39L202.45 169.8L200.35 172.22L198.25 169.8Z" fill="#628c1e"/>
<path d="M29.5 158.7 L29.5 269.5 L214.5 269.5 L214.5 158.7" fill="none" stroke="#707070" stroke-width="1.05"/>
<line x1="27.3" y1="176.2" x2="29.5" y2="176.2" stroke="#707070" stroke-width="0.9"/>
<text transform="translate(26 180.1) scale(0.1060 0.1)" font-size="83" text-anchor="end" fill="#111" stroke="#111" stroke-width="1.0">0.9</text>
<line x1="27.3" y1="211.9" x2="29.5" y2="211.9" stroke="#707070" stroke-width="0.9"/>
<text transform="translate(26 215.8) scale(0.1060 0.1)" font-size="83" text-anchor="end" fill="#111" stroke="#111" stroke-width="1.0">0.8</text>
<line x1="27.3" y1="247.6" x2="29.5" y2="247.6" stroke="#707070" stroke-width="0.9"/>
<text transform="translate(26 251.5) scale(0.1060 0.1)" font-size="83" text-anchor="end" fill="#111" stroke="#111" stroke-width="1.0">0.7</text>
<line x1="40.6" y1="269.5" x2="40.6" y2="271.7" stroke="#707070" stroke-width="0.9"/>
<text transform="translate(40.6 278.7) scale(0.1060 0.1)" font-size="83" text-anchor="middle" fill="#111" stroke="#111" stroke-width="1.0">50</text>
<line x1="85.2" y1="269.5" x2="85.2" y2="271.7" stroke="#707070" stroke-width="0.9"/>
<text transform="translate(85.2 278.7) scale(0.1060 0.1)" font-size="83" text-anchor="middle" fill="#111" stroke="#111" stroke-width="1.0">100</text>
<line x1="122" y1="269.5" x2="122" y2="271.7" stroke="#707070" stroke-width="0.9"/>
<text transform="translate(122 278.7) scale(0.1060 0.1)" font-size="83" text-anchor="middle" fill="#111" stroke="#111" stroke-width="1.0">250</text>
<line x1="159" y1="269.5" x2="159" y2="271.7" stroke="#707070" stroke-width="0.9"/>
<text transform="translate(159 278.7) scale(0.1060 0.1)" font-size="83" text-anchor="middle" fill="#111" stroke="#111" stroke-width="1.0">500</text>
<line x1="203.6" y1="269.5" x2="203.6" y2="271.7" stroke="#707070" stroke-width="0.9"/>
<text transform="translate(203.6 278.7) scale(0.1060 0.1)" font-size="83" text-anchor="middle" fill="#111" stroke="#111" stroke-width="1.0">1000</text>
<text transform="translate(121.9 156.5) scale(0.1000 0.1)" font-size="110" text-anchor="middle" fill="#111" stroke="#111" stroke-width="1.0">Electric Devices</text>
<line x1="254.1" y1="164.2" x2="416.5" y2="164.2" stroke="#555" stroke-width="1.1" stroke-dasharray="2.2 1.46"/>
<path d="M263.98 206 L300.88 191.9 L337.78 178.9 L374.68 173.6 L411.58 169" fill="none" stroke="#08325f" stroke-width="0.8" stroke-opacity="0.8" stroke-dasharray="1.8 1.3 0.6 1.3"/>
<line x1="263.98" y1="200.7" x2="263.98" y2="209.3" stroke="#08325f" stroke-width="1.35" stroke-opacity="0.72"/>
<line x1="300.88" y1="189" x2="300.88" y2="194.8" stroke="#08325f" stroke-width="1.35" stroke-opacity="0.72"/>
<line x1="337.78" y1="177" x2="337.78" y2="180.8" stroke="#08325f" stroke-width="1.35" stroke-opacity="0.72"/>
<line x1="374.68" y1="172" x2="374.68" y2="175.2" stroke="#08325f" stroke-width="1.35" stroke-opacity="0.72"/>
<line x1="411.58" y1="168" x2="411.58" y2="170" stroke="#08325f" stroke-width="1.35" stroke-opacity="0.72"/>
<path d="M263.98 203.59L266.08 206L263.98 208.41L261.88 206Z" fill="#08325f"/>
<path d="M300.88 189.49L302.98 191.9L300.88 194.31L298.78 191.9Z" fill="#08325f"/>
<path d="M337.78 176.49L339.88 178.9L337.78 181.31L335.68 178.9Z" fill="#08325f"/>
<path d="M374.68 171.19L376.78 173.6L374.68 176.01L372.58 173.6Z" fill="#08325f"/>
<path d="M411.58 166.59L413.68 169L411.58 171.41L409.48 169Z" fill="#08325f"/>
<path d="M256.57 222.6 L293.47 208 L330.37 192.3 L367.27 184.3 L404.17 179.5" fill="none" stroke="#72a4dc" stroke-width="0.8" stroke-opacity="0.8" stroke-dasharray="1.8 1.3 0.6 1.3"/>
<line x1="256.57" y1="216" x2="256.57" y2="228.3" stroke="#72a4dc" stroke-width="1.45" stroke-opacity="0.45"/>
<line x1="293.47" y1="205" x2="293.47" y2="211" stroke="#72a4dc" stroke-width="1.45" stroke-opacity="0.45"/>
<line x1="330.37" y1="190" x2="330.37" y2="194.6" stroke="#72a4dc" stroke-width="1.45" stroke-opacity="0.45"/>
<line x1="367.27" y1="182.5" x2="367.27" y2="186" stroke="#72a4dc" stroke-width="1.45" stroke-opacity="0.45"/>
<line x1="404.17" y1="178" x2="404.17" y2="181" stroke="#72a4dc" stroke-width="1.45" stroke-opacity="0.45"/>
<path d="M256.57 220.3L258.57 222.6L256.57 224.9L254.57 222.6Z" fill="#72a4dc"/>
<path d="M293.47 205.7L295.47 208L293.47 210.3L291.47 208Z" fill="#72a4dc"/>
<path d="M330.37 190L332.37 192.3L330.37 194.6L328.37 192.3Z" fill="#72a4dc"/>
<path d="M367.27 182L369.27 184.3L367.27 186.6L365.27 184.3Z" fill="#72a4dc"/>
<path d="M404.17 177.2L406.17 179.5L404.17 181.8L402.17 179.5Z" fill="#72a4dc"/>
<path d="M268.92 239.2 L305.82 191.9 L342.72 178.6 L379.62 168.5 L416.52 165" fill="none" stroke="#0a6ec0" stroke-width="0.8" stroke-opacity="0.8" stroke-dasharray="1.3 0.6"/>
<line x1="268.92" y1="225.5" x2="268.92" y2="252.5" stroke="#0a6ec0" stroke-width="1.15" stroke-opacity="0.7"/>
<line x1="305.82" y1="187.5" x2="305.82" y2="196" stroke="#0a6ec0" stroke-width="1.15" stroke-opacity="0.7"/>
<line x1="342.72" y1="176.5" x2="342.72" y2="180.7" stroke="#0a6ec0" stroke-width="1.15" stroke-opacity="0.7"/>
<line x1="379.62" y1="167.3" x2="379.62" y2="169.7" stroke="#0a6ec0" stroke-width="1.15" stroke-opacity="0.7"/>
<line x1="416.52" y1="164.2" x2="416.52" y2="165.8" stroke="#0a6ec0" stroke-width="1.15" stroke-opacity="0.7"/>
<path d="M268.92 236.78L271.02 239.2L268.92 241.61L266.82 239.2Z" fill="#0a6ec0"/>
<path d="M305.82 189.49L307.92 191.9L305.82 194.31L303.72 191.9Z" fill="#0a6ec0"/>
<path d="M342.72 176.19L344.82 178.6L342.72 181.01L340.62 178.6Z" fill="#0a6ec0"/>
<path d="M379.62 166.09L381.72 168.5L379.62 170.91L377.52 168.5Z" fill="#0a6ec0"/>
<path d="M416.52 162.59L418.62 165L416.52 167.41L414.42 165Z" fill="#0a6ec0"/>
<path d="M259.04 219.8 L295.94 197 L332.84 178 L369.74 170.4 L406.64 166.6" fill="none" stroke="#ffadae" stroke-width="0.9" stroke-opacity="0.9"/>
<line x1="259.04" y1="214" x2="259.04" y2="225.5" stroke="#ffadae" stroke-width="1.05" stroke-opacity="0.55"/>
<line x1="295.94" y1="193" x2="295.94" y2="201" stroke="#ffadae" stroke-width="1.05" stroke-opacity="0.55"/>
<line x1="332.84" y1="176" x2="332.84" y2="180" stroke="#ffadae" stroke-width="1.05" stroke-opacity="0.55"/>
<line x1="369.74" y1="169" x2="369.74" y2="171.8" stroke="#ffadae" stroke-width="1.05" stroke-opacity="0.55"/>
<line x1="406.64" y1="165.5" x2="406.64" y2="167.7" stroke="#ffadae" stroke-width="1.05" stroke-opacity="0.55"/>
<path d="M259.04 217.84L260.74 219.8L259.04 221.76L257.34 219.8Z" fill="#ffadae"/>
<path d="M295.94 195.04L297.64 197L295.94 198.96L294.24 197Z" fill="#ffadae"/>
<path d="M332.84 176.04L334.54 178L332.84 179.96L331.14 178Z" fill="#ffadae"/>
<path d="M369.74 168.44L371.44 170.4L369.74 172.36L368.04 170.4Z" fill="#ffadae"/>
<path d="M406.64 164.64L408.34 166.6L406.64 168.56L404.94 166.6Z" fill="#ffadae"/>
<path d="M261.51 192.3 L298.41 179.2 L335.31 170.4 L372.21 166.9 L409.11 164.1" fill="none" stroke="#cc4a42" stroke-width="0.9" stroke-opacity="0.8" stroke-dasharray="2.4 0.7"/>
<line x1="261.51" y1="189" x2="261.51" y2="195.6" stroke="#cc4a42" stroke-width="1.2" stroke-opacity="0.55"/>
<line x1="298.41" y1="177" x2="298.41" y2="181.4" stroke="#cc4a42" stroke-width="1.2" stroke-opacity="0.55"/>
<line x1="335.31" y1="169" x2="335.31" y2="171.8" stroke="#cc4a42" stroke-width="1.2" stroke-opacity="0.55"/>
<line x1="372.21" y1="166" x2="372.21" y2="167.8" stroke="#cc4a42" stroke-width="1.2" stroke-opacity="0.55"/>
<line x1="409.11" y1="163.3" x2="409.11" y2="164.9" stroke="#cc4a42" stroke-width="1.2" stroke-opacity="0.55"/>
<path d="M261.51 190L263.51 192.3L261.51 194.6L259.51 192.3Z" fill="#cc4a42"/>
<path d="M298.41 176.9L300.41 179.2L298.41 181.5L296.41 179.2Z" fill="#cc4a42"/>
<path d="M335.31 168.1L337.31 170.4L335.31 172.7L333.31 170.4Z" fill="#cc4a42"/>
<path d="M372.21 164.6L374.21 166.9L372.21 169.2L370.21 166.9Z" fill="#cc4a42"/>
<path d="M409.11 161.8L411.11 164.1L409.11 166.4L407.11 164.1Z" fill="#cc4a42"/>
<path d="M271.39 206.8 L308.29 188 L345.19 174.2 L382.09 169 L418.99 166.6" fill="none" stroke="#f0c008" stroke-width="1.0" stroke-opacity="0.9"/>
<line x1="271.39" y1="204" x2="271.39" y2="209.5" stroke="#f0c008" stroke-width="1.2" stroke-opacity="0.55"/>
<line x1="308.29" y1="182.8" x2="308.29" y2="194.2" stroke="#f0c008" stroke-width="1.2" stroke-opacity="0.55"/>
<line x1="345.19" y1="172.5" x2="345.19" y2="175.9" stroke="#f0c008" stroke-width="1.2" stroke-opacity="0.55"/>
<line x1="382.09" y1="168" x2="382.09" y2="170" stroke="#f0c008" stroke-width="1.2" stroke-opacity="0.55"/>
<line x1="418.99" y1="165.8" x2="418.99" y2="167.4" stroke="#f0c008" stroke-width="1.2" stroke-opacity="0.55"/>
<path d="M271.39 204.39L273.49 206.8L271.39 209.22L269.29 206.8Z" fill="#f0c008"/>
<path d="M308.29 185.59L310.39 188L308.29 190.41L306.19 188Z" fill="#f0c008"/>
<path d="M345.19 171.78L347.29 174.2L345.19 176.61L343.09 174.2Z" fill="#f0c008"/>
<path d="M382.09 166.59L384.19 169L382.09 171.41L379.99 169Z" fill="#f0c008"/>
<path d="M418.99 164.19L421.09 166.6L418.99 169.01L416.89 166.6Z" fill="#f0c008"/>
<path d="M254.1 245.8 L291 244.4 L327.9 247.5 L364.8 251 L401.7 253.9" fill="none" stroke="#876b00" stroke-width="0.9" stroke-opacity="0.75"/>
<line x1="254.1" y1="237.1" x2="254.1" y2="254.5" stroke="#876b00" stroke-width="1.05" stroke-opacity="0.6"/>
<line x1="291" y1="225" x2="291" y2="264" stroke="#876b00" stroke-width="1.05" stroke-opacity="0.6"/>
<line x1="327.9" y1="239.5" x2="327.9" y2="256.2" stroke="#876b00" stroke-width="1.05" stroke-opacity="0.6"/>
<line x1="364.8" y1="241.8" x2="364.8" y2="260.3" stroke="#876b00" stroke-width="1.05" stroke-opacity="0.6"/>
<line x1="401.7" y1="249" x2="401.7" y2="259.1" stroke="#876b00" stroke-width="1.05" stroke-opacity="0.6"/>
<path d="M254.1 243.39L256.2 245.8L254.1 248.22L252 245.8Z" fill="#876b00"/>
<path d="M291 241.99L293.1 244.4L291 246.81L288.9 244.4Z" fill="#876b00"/>
<path d="M327.9 245.09L330 247.5L327.9 249.91L325.8 247.5Z" fill="#876b00"/>
<path d="M364.8 248.59L366.9 251L364.8 253.41L362.7 251Z" fill="#876b00"/>
<path d="M401.7 251.49L403.8 253.9L401.7 256.31L399.6 253.9Z" fill="#876b00"/>
<path d="M266.45 212.1 L303.35 196.1 L340.25 184.3 L377.15 176.6 L414.05 175.7" fill="none" stroke="#628c1e" stroke-width="0.9" stroke-opacity="0.85"/>
<line x1="266.45" y1="208.3" x2="266.45" y2="216.9" stroke="#628c1e" stroke-width="1.15" stroke-opacity="0.55"/>
<line x1="303.35" y1="193.2" x2="303.35" y2="199.9" stroke="#628c1e" stroke-width="1.15" stroke-opacity="0.55"/>
<line x1="340.25" y1="181" x2="340.25" y2="187" stroke="#628c1e" stroke-width="1.15" stroke-opacity="0.55"/>
<line x1="377.15" y1="175" x2="377.15" y2="178.2" stroke="#628c1e" stroke-width="1.15" stroke-opacity="0.55"/>
<line x1="414.05" y1="174.5" x2="414.05" y2="176.9" stroke="#628c1e" stroke-width="1.15" stroke-opacity="0.55"/>
<path d="M266.45 209.69L268.55 212.1L266.45 214.51L264.35 212.1Z" fill="#628c1e"/>
<path d="M303.35 193.69L305.45 196.1L303.35 198.51L301.25 196.1Z" fill="#628c1e"/>
<path d="M340.25 181.89L342.35 184.3L340.25 186.72L338.15 184.3Z" fill="#628c1e"/>
<path d="M377.15 174.19L379.25 176.6L377.15 179.01L375.05 176.6Z" fill="#628c1e"/>
<path d="M414.05 173.28L416.15 175.7L414.05 178.11L411.95 175.7Z" fill="#628c1e"/>
<path d="M243.5 158.7 L243.5 269.5 L428 269.5 L428 158.7" fill="none" stroke="#707070" stroke-width="1.05"/>
<line x1="241.3" y1="173.7" x2="243.5" y2="173.7" stroke="#707070" stroke-width="0.9"/>
<text transform="translate(239.7 177.6) scale(0.1060 0.1)" font-size="83" text-anchor="end" fill="#111" stroke="#111" stroke-width="1.0">0.95</text>
<line x1="241.3" y1="197.4" x2="243.5" y2="197.4" stroke="#707070" stroke-width="0.9"/>
<text transform="translate(239.7 201.3) scale(0.1060 0.1)" font-size="83" text-anchor="end" fill="#111" stroke="#111" stroke-width="1.0">0.90</text>
<line x1="241.3" y1="221.1" x2="243.5" y2="221.1" stroke="#707070" stroke-width="0.9"/>
<text transform="translate(239.7 225) scale(0.1060 0.1)" font-size="83" text-anchor="end" fill="#111" stroke="#111" stroke-width="1.0">0.85</text>
<line x1="241.3" y1="244.9" x2="243.5" y2="244.9" stroke="#707070" stroke-width="0.9"/>
<text transform="translate(239.7 248.8) scale(0.1060 0.1)" font-size="83" text-anchor="end" fill="#111" stroke="#111" stroke-width="1.0">0.80</text>
<line x1="241.3" y1="268.6" x2="243.5" y2="268.6" stroke="#707070" stroke-width="0.9"/>
<text transform="translate(239.7 272.5) scale(0.1060 0.1)" font-size="83" text-anchor="end" fill="#111" stroke="#111" stroke-width="1.0">0.75</text>
<line x1="254.3" y1="269.5" x2="254.3" y2="271.7" stroke="#707070" stroke-width="0.9"/>
<text transform="translate(254.3 278.7) scale(0.1060 0.1)" font-size="83" text-anchor="middle" fill="#111" stroke="#111" stroke-width="1.0">50</text>
<line x1="298.9" y1="269.5" x2="298.9" y2="271.7" stroke="#707070" stroke-width="0.9"/>
<text transform="translate(298.9 278.7) scale(0.1060 0.1)" font-size="83" text-anchor="middle" fill="#111" stroke="#111" stroke-width="1.0">100</text>
<line x1="335.7" y1="269.5" x2="335.7" y2="271.7" stroke="#707070" stroke-width="0.9"/>
<text transform="translate(335.7 278.7) scale(0.1060 0.1)" font-size="83" text-anchor="middle" fill="#111" stroke="#111" stroke-width="1.0">250</text>
<line x1="372.7" y1="269.5" x2="372.7" y2="271.7" stroke="#707070" stroke-width="0.9"/>
<text transform="translate(372.7 278.7) scale(0.1060 0.1)" font-size="83" text-anchor="middle" fill="#111" stroke="#111" stroke-width="1.0">500</text>
<line x1="417.3" y1="269.5" x2="417.3" y2="271.7" stroke="#707070" stroke-width="0.9"/>
<text transform="translate(417.3 278.7) scale(0.1060 0.1)" font-size="83" text-anchor="middle" fill="#111" stroke="#111" stroke-width="1.0">1000</text>
<text transform="translate(335.6 156.5) scale(0.1000 0.1)" font-size="110" text-anchor="middle" fill="#111" stroke="#111" stroke-width="1.0">Crop</text>
<line x1="468.5" y1="168.4" x2="630.9" y2="168.4" stroke="#555" stroke-width="1.1" stroke-dasharray="2.2 1.46"/>
<path d="M478.38 233.5 L515.28 229.6 L552.18 220.9 L589.08 216.7 L625.98 214.7" fill="none" stroke="#08325f" stroke-width="0.8" stroke-opacity="0.8" stroke-dasharray="1.8 1.3 0.6 1.3"/>
<line x1="478.38" y1="222.3" x2="478.38" y2="244.2" stroke="#08325f" stroke-width="1.35" stroke-opacity="0.72"/>
<line x1="515.28" y1="220.3" x2="515.28" y2="239.2" stroke="#08325f" stroke-width="1.35" stroke-opacity="0.72"/>
<line x1="552.18" y1="216" x2="552.18" y2="225" stroke="#08325f" stroke-width="1.35" stroke-opacity="0.72"/>
<line x1="589.08" y1="211.9" x2="589.08" y2="222" stroke="#08325f" stroke-width="1.35" stroke-opacity="0.72"/>
<line x1="625.98" y1="209.6" x2="625.98" y2="219.7" stroke="#08325f" stroke-width="1.35" stroke-opacity="0.72"/>
<path d="M478.38 231.09L480.48 233.5L478.38 235.91L476.28 233.5Z" fill="#08325f"/>
<path d="M515.28 227.19L517.38 229.6L515.28 232.01L513.18 229.6Z" fill="#08325f"/>
<path d="M552.18 218.49L554.28 220.9L552.18 223.31L550.08 220.9Z" fill="#08325f"/>
<path d="M589.08 214.28L591.18 216.7L589.08 219.11L586.98 216.7Z" fill="#08325f"/>
<path d="M625.98 212.28L628.08 214.7L625.98 217.11L623.88 214.7Z" fill="#08325f"/>
<path d="M470.97 254.9 L507.87 252.6 L544.77 257.1 L581.67 259.3 L618.57 261.1" fill="none" stroke="#72a4dc" stroke-width="0.8" stroke-opacity="0.8" stroke-dasharray="1.8 1.3 0.6 1.3"/>
<line x1="470.97" y1="248.4" x2="470.97" y2="261.9" stroke="#72a4dc" stroke-width="1.45" stroke-opacity="0.45"/>
<line x1="507.87" y1="249.8" x2="507.87" y2="255.5" stroke="#72a4dc" stroke-width="1.45" stroke-opacity="0.45"/>
<line x1="544.77" y1="251.3" x2="544.77" y2="263.1" stroke="#72a4dc" stroke-width="1.45" stroke-opacity="0.45"/>
<line x1="581.67" y1="254.6" x2="581.67" y2="263.9" stroke="#72a4dc" stroke-width="1.45" stroke-opacity="0.45"/>
<line x1="618.57" y1="257.4" x2="618.57" y2="263.9" stroke="#72a4dc" stroke-width="1.45" stroke-opacity="0.45"/>
<path d="M470.97 252.6L472.97 254.9L470.97 257.2L468.97 254.9Z" fill="#72a4dc"/>
<path d="M507.87 250.3L509.87 252.6L507.87 254.9L505.87 252.6Z" fill="#72a4dc"/>
<path d="M544.77 254.8L546.77 257.1L544.77 259.4L542.77 257.1Z" fill="#72a4dc"/>
<path d="M581.67 257L583.67 259.3L581.67 261.6L579.67 259.3Z" fill="#72a4dc"/>
<path d="M618.57 258.8L620.57 261.1L618.57 263.4L616.57 261.1Z" fill="#72a4dc"/>
<path d="M483.32 194.2 L520.22 183.5 L557.12 177.7 L594.02 172.5 L630.92 173.8" fill="none" stroke="#0a6ec0" stroke-width="0.8" stroke-opacity="0.8" stroke-dasharray="1.3 0.6"/>
<line x1="483.32" y1="192" x2="483.32" y2="196.5" stroke="#0a6ec0" stroke-width="1.15" stroke-opacity="0.7"/>
<line x1="520.22" y1="177.3" x2="520.22" y2="189.7" stroke="#0a6ec0" stroke-width="1.15" stroke-opacity="0.7"/>
<line x1="557.12" y1="175" x2="557.12" y2="181" stroke="#0a6ec0" stroke-width="1.15" stroke-opacity="0.7"/>
<line x1="594.02" y1="171" x2="594.02" y2="174" stroke="#0a6ec0" stroke-width="1.15" stroke-opacity="0.7"/>
<line x1="630.92" y1="171" x2="630.92" y2="177" stroke="#0a6ec0" stroke-width="1.15" stroke-opacity="0.7"/>
<path d="M483.32 191.78L485.42 194.2L483.32 196.61L481.22 194.2Z" fill="#0a6ec0"/>
<path d="M520.22 181.09L522.32 183.5L520.22 185.91L518.12 183.5Z" fill="#0a6ec0"/>
<path d="M557.12 175.28L559.22 177.7L557.12 180.11L555.02 177.7Z" fill="#0a6ec0"/>
<path d="M594.02 170.09L596.12 172.5L594.02 174.91L591.92 172.5Z" fill="#0a6ec0"/>
<path d="M630.92 171.39L633.02 173.8L630.92 176.22L628.82 173.8Z" fill="#0a6ec0"/>
<path d="M473.44 193.8 L510.34 181.4 L547.24 178 L584.14 175.6 L621.04 176.1" fill="none" stroke="#ffadae" stroke-width="0.9" stroke-opacity="0.9"/>
<line x1="473.44" y1="189.4" x2="473.44" y2="202.8" stroke="#ffadae" stroke-width="1.05" stroke-opacity="0.55"/>
<line x1="510.34" y1="177" x2="510.34" y2="185.5" stroke="#ffadae" stroke-width="1.05" stroke-opacity="0.55"/>
<line x1="547.24" y1="175.5" x2="547.24" y2="180.5" stroke="#ffadae" stroke-width="1.05" stroke-opacity="0.55"/>
<line x1="584.14" y1="174" x2="584.14" y2="177.2" stroke="#ffadae" stroke-width="1.05" stroke-opacity="0.55"/>
<line x1="621.04" y1="174.5" x2="621.04" y2="177.7" stroke="#ffadae" stroke-width="1.05" stroke-opacity="0.55"/>
<path d="M473.44 191.84L475.14 193.8L473.44 195.76L471.74 193.8Z" fill="#ffadae"/>
<path d="M510.34 179.44L512.04 181.4L510.34 183.36L508.64 181.4Z" fill="#ffadae"/>
<path d="M547.24 176.04L548.94 178L547.24 179.96L545.54 178Z" fill="#ffadae"/>
<path d="M584.14 173.64L585.84 175.6L584.14 177.56L582.44 175.6Z" fill="#ffadae"/>
<path d="M621.04 174.14L622.74 176.1L621.04 178.06L619.34 176.1Z" fill="#ffadae"/>
<path d="M475.91 187 L512.81 178.7 L549.71 173.3 L586.61 167.5 L623.51 166.3" fill="none" stroke="#cc4a42" stroke-width="0.9" stroke-opacity="0.8" stroke-dasharray="2.4 0.7"/>
<line x1="475.91" y1="184.5" x2="475.91" y2="189.5" stroke="#cc4a42" stroke-width="1.2" stroke-opacity="0.55"/>
<line x1="512.81" y1="173.1" x2="512.81" y2="182.8" stroke="#cc4a42" stroke-width="1.2" stroke-opacity="0.55"/>
<line x1="549.71" y1="169.4" x2="549.71" y2="177.2" stroke="#cc4a42" stroke-width="1.2" stroke-opacity="0.55"/>
<line x1="586.61" y1="163.4" x2="586.61" y2="171.5" stroke="#cc4a42" stroke-width="1.2" stroke-opacity="0.55"/>
<line x1="623.51" y1="163.5" x2="623.51" y2="169" stroke="#cc4a42" stroke-width="1.2" stroke-opacity="0.55"/>
<path d="M475.91 184.7L477.91 187L475.91 189.3L473.91 187Z" fill="#cc4a42"/>
<path d="M512.81 176.4L514.81 178.7L512.81 181L510.81 178.7Z" fill="#cc4a42"/>
<path d="M549.71 171L551.71 173.3L549.71 175.6L547.71 173.3Z" fill="#cc4a42"/>
<path d="M586.61 165.2L588.61 167.5L586.61 169.8L584.61 167.5Z" fill="#cc4a42"/>
<path d="M623.51 164L625.51 166.3L623.51 168.6L621.51 166.3Z" fill="#cc4a42"/>
<path d="M485.79 185.2 L522.69 183.8 L559.59 174.2 L596.49 172.5 L633.39 174" fill="none" stroke="#f0c008" stroke-width="1.0" stroke-opacity="0.9"/>
<line x1="485.79" y1="181" x2="485.79" y2="188.5" stroke="#f0c008" stroke-width="1.2" stroke-opacity="0.55"/>
<line x1="522.69" y1="180.8" x2="522.69" y2="186.3" stroke="#f0c008" stroke-width="1.2" stroke-opacity="0.55"/>
<line x1="559.59" y1="172.5" x2="559.59" y2="176" stroke="#f0c008" stroke-width="1.2" stroke-opacity="0.55"/>
<line x1="596.49" y1="171" x2="596.49" y2="174" stroke="#f0c008" stroke-width="1.2" stroke-opacity="0.55"/>
<line x1="633.39" y1="172.5" x2="633.39" y2="175.5" stroke="#f0c008" stroke-width="1.2" stroke-opacity="0.55"/>
<path d="M485.79 182.78L487.89 185.2L485.79 187.61L483.69 185.2Z" fill="#f0c008"/>
<path d="M522.69 181.39L524.79 183.8L522.69 186.22L520.59 183.8Z" fill="#f0c008"/>
<path d="M559.59 171.78L561.69 174.2L559.59 176.61L557.49 174.2Z" fill="#f0c008"/>
<path d="M596.49 170.09L598.59 172.5L596.49 174.91L594.39 172.5Z" fill="#f0c008"/>
<path d="M633.39 171.59L635.49 174L633.39 176.41L631.29 174Z" fill="#f0c008"/>
<path d="M468.5 187 L505.4 184.9 L542.3 179.4 L579.2 178.8 L616.1 177.5" fill="none" stroke="#876b00" stroke-width="0.9" stroke-opacity="0.75"/>
<line x1="468.5" y1="182.8" x2="468.5" y2="190.8" stroke="#876b00" stroke-width="1.05" stroke-opacity="0.6"/>
<line x1="505.4" y1="179.4" x2="505.4" y2="190.4" stroke="#876b00" stroke-width="1.05" stroke-opacity="0.6"/>
<line x1="542.3" y1="172.4" x2="542.3" y2="185.6" stroke="#876b00" stroke-width="1.05" stroke-opacity="0.6"/>
<line x1="579.2" y1="176" x2="579.2" y2="181.5" stroke="#876b00" stroke-width="1.05" stroke-opacity="0.6"/>
<line x1="616.1" y1="175" x2="616.1" y2="180" stroke="#876b00" stroke-width="1.05" stroke-opacity="0.6"/>
<path d="M468.5 184.59L470.6 187L468.5 189.41L466.4 187Z" fill="#876b00"/>
<path d="M505.4 182.49L507.5 184.9L505.4 187.31L503.3 184.9Z" fill="#876b00"/>
<path d="M542.3 176.99L544.4 179.4L542.3 181.81L540.2 179.4Z" fill="#876b00"/>
<path d="M579.2 176.39L581.3 178.8L579.2 181.22L577.1 178.8Z" fill="#876b00"/>
<path d="M616.1 175.09L618.2 177.5L616.1 179.91L614 177.5Z" fill="#876b00"/>
<path d="M480.85 187.9 L517.75 183.2 L554.65 177.6 L591.55 173.8 L628.45 174" fill="none" stroke="#628c1e" stroke-width="0.9" stroke-opacity="0.85"/>
<line x1="480.85" y1="185" x2="480.85" y2="191" stroke="#628c1e" stroke-width="1.15" stroke-opacity="0.55"/>
<line x1="517.75" y1="178" x2="517.75" y2="189" stroke="#628c1e" stroke-width="1.15" stroke-opacity="0.55"/>
<line x1="554.65" y1="175.5" x2="554.65" y2="179.7" stroke="#628c1e" stroke-width="1.15" stroke-opacity="0.55"/>
<line x1="591.55" y1="172" x2="591.55" y2="175.6" stroke="#628c1e" stroke-width="1.15" stroke-opacity="0.55"/>
<line x1="628.45" y1="172.3" x2="628.45" y2="175.7" stroke="#628c1e" stroke-width="1.15" stroke-opacity="0.55"/>
<path d="M480.85 185.49L482.95 187.9L480.85 190.31L478.75 187.9Z" fill="#628c1e"/>
<path d="M517.75 180.78L519.85 183.2L517.75 185.61L515.65 183.2Z" fill="#628c1e"/>
<path d="M554.65 175.19L556.75 177.6L554.65 180.01L552.55 177.6Z" fill="#628c1e"/>
<path d="M591.55 171.39L593.65 173.8L591.55 176.22L589.45 173.8Z" fill="#628c1e"/>
<path d="M628.45 171.59L630.55 174L628.45 176.41L626.35 174Z" fill="#628c1e"/>
<path d="M457.5 158.7 L457.5 269.5 L642.5 269.5 L642.5 158.7" fill="none" stroke="#707070" stroke-width="1.05"/>
<line x1="455.3" y1="181.4" x2="457.5" y2="181.4" stroke="#707070" stroke-width="0.9"/>
<text transform="translate(454.1 185.3) scale(0.1060 0.1)" font-size="83" text-anchor="end" fill="#111" stroke="#111" stroke-width="1.0">0.8</text>
<line x1="455.3" y1="205.7" x2="457.5" y2="205.7" stroke="#707070" stroke-width="0.9"/>
<text transform="translate(454.1 209.6) scale(0.1060 0.1)" font-size="83" text-anchor="end" fill="#111" stroke="#111" stroke-width="1.0">0.7</text>
<line x1="455.3" y1="230" x2="457.5" y2="230" stroke="#707070" stroke-width="0.9"/>
<text transform="translate(454.1 233.9) scale(0.1060 0.1)" font-size="83" text-anchor="end" fill="#111" stroke="#111" stroke-width="1.0">0.6</text>
<line x1="455.3" y1="254.4" x2="457.5" y2="254.4" stroke="#707070" stroke-width="0.9"/>
<text transform="translate(454.1 258.3) scale(0.1060 0.1)" font-size="83" text-anchor="end" fill="#111" stroke="#111" stroke-width="1.0">0.5</text>
<line x1="468.7" y1="269.5" x2="468.7" y2="271.7" stroke="#707070" stroke-width="0.9"/>
<text transform="translate(468.7 278.7) scale(0.1060 0.1)" font-size="83" text-anchor="middle" fill="#111" stroke="#111" stroke-width="1.0">50</text>
<line x1="513.3" y1="269.5" x2="513.3" y2="271.7" stroke="#707070" stroke-width="0.9"/>
<text transform="translate(513.3 278.7) scale(0.1060 0.1)" font-size="83" text-anchor="middle" fill="#111" stroke="#111" stroke-width="1.0">100</text>
<line x1="550.1" y1="269.5" x2="550.1" y2="271.7" stroke="#707070" stroke-width="0.9"/>
<text transform="translate(550.1 278.7) scale(0.1060 0.1)" font-size="83" text-anchor="middle" fill="#111" stroke="#111" stroke-width="1.0">250</text>
<line x1="587.1" y1="269.5" x2="587.1" y2="271.7" stroke="#707070" stroke-width="0.9"/>
<text transform="translate(587.1 278.7) scale(0.1060 0.1)" font-size="83" text-anchor="middle" fill="#111" stroke="#111" stroke-width="1.0">500</text>
<line x1="631.7" y1="269.5" x2="631.7" y2="271.7" stroke="#707070" stroke-width="0.9"/>
<text transform="translate(631.7 278.7) scale(0.1060 0.1)" font-size="83" text-anchor="middle" fill="#111" stroke="#111" stroke-width="1.0">1000</text>
<text transform="translate(550 156.5) scale(0.1000 0.1)" font-size="110" text-anchor="middle" fill="#111" stroke="#111" stroke-width="1.0">FordB</text>
<text transform="translate(7.6 64.2) rotate(-90) scale(0.1000 0.1)" font-size="85" text-anchor="middle" fill="#111" stroke="#111" stroke-width="1.0">weighted AUC</text>
<text transform="translate(7.6 213.9) rotate(-90) scale(0.1000 0.1)" font-size="85" text-anchor="middle" fill="#111" stroke="#111" stroke-width="1.0">weighted AUC</text>
<text transform="translate(335.6 137.6) scale(0.1070 0.1)" font-size="85" text-anchor="middle" fill="#111" stroke="#111" stroke-width="1.0">Number of labelled samples</text>
<text transform="translate(335.6 287.1) scale(0.1070 0.1)" font-size="85" text-anchor="middle" fill="#111" stroke="#111" stroke-width="1.0">Number of labelled samples</text>
<rect x="130.7" y="32.3" width="80.3" height="84.1" rx="1.5" fill="#fff" fill-opacity="0.85" stroke="#d8d8d8" stroke-width="0.8"/>
<rect x="133" y="34.8" width="14" height="4.4" fill="#08325f"/>
<text transform="translate(152.7 39.6) scale(0.0960 0.1)" font-size="73" fill="#2a2a2a">Random Forest</text>
<rect x="133" y="43.95" width="14" height="4.4" fill="#72a4dc"/>
<text transform="translate(152.7 48.75) scale(0.0960 0.1)" font-size="73" fill="#2a2a2a">Logistic Regression</text>
<rect x="133" y="53.1" width="14" height="4.4" fill="#0a6ec0"/>
<text transform="translate(152.7 57.9) scale(0.0960 0.1)" font-size="73" fill="#2a2a2a">Supervised FCN</text>
<rect x="133" y="62.25" width="14" height="4.4" fill="#000000"/>
<text transform="translate(152.7 67.05) scale(0.0960 0.1)" font-size="73" fill="#2a2a2a">Fully Labelled FCN</text>
<rect x="133" y="71.4" width="14" height="4.4" fill="#ffadae"/>
<text transform="translate(152.7 76.2) scale(0.0960 0.1)" font-size="73" fill="#2a2a2a">Mean Teacher</text>
<rect x="133" y="80.55" width="14" height="4.4" fill="#cc4a42"/>
<text transform="translate(152.7 85.35) scale(0.0960 0.1)" font-size="73" fill="#2a2a2a">MixMatch</text>
<rect x="133" y="89.7" width="14" height="4.4" fill="#f0c008"/>
<text transform="translate(152.7 94.5) scale(0.0960 0.1)" font-size="73" fill="#2a2a2a">VAT</text>
<rect x="133" y="98.85" width="14" height="4.4" fill="#876b00"/>
<text transform="translate(152.7 103.65) scale(0.0960 0.1)" font-size="73" fill="#2a2a2a">Ladder</text>
<rect x="133" y="108" width="14" height="4.4" fill="#628c1e"/>
<text transform="translate(152.7 112.8) scale(0.0960 0.1)" font-size="73" fill="#2a2a2a">Self-Supervised</text>
</svg></body></html>
